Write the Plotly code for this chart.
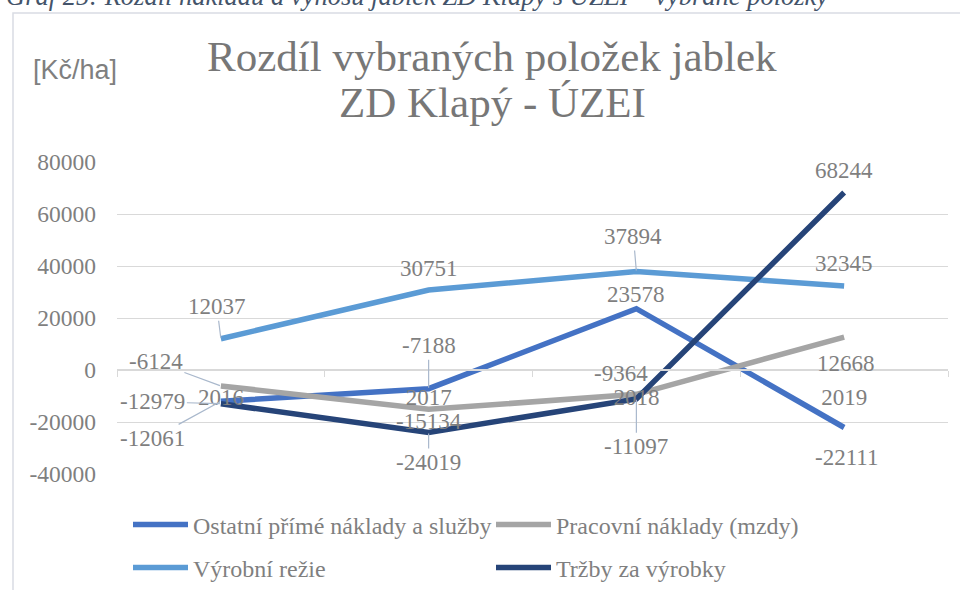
import plotly.graph_objects as go

# ---------------- data ----------------
years = ["2016", "2017", "2018", "2019"]
ostatni = [-12061, -7188, 23578, -22111]
pracovni = [-6124, -15134, -9364, 12668]
vyrobni = [12037, 30751, 37894, 32345]
trzby = [-12979, -24019, -11097, 68244]
series_names = ["Ostatní přímé náklady a služby", "Pracovní náklady (mzdy)",
                "Výrobní režie", "Tržby za výrobky"]
y_tick_vals = [-40000, -20000, 0, 20000, 40000, 60000, 80000]
y_tick_text = ["-40000", "-20000", "0", "20000", "40000", "60000", "80000"]
title_lines = ["Rozdíl vybraných položek jablek", "ZD Klapý - ÚZEI"]
unit_label = "[Kč/ha]"
caption = "Graf 25: Rozdíl nákladů a výnosů jablek ZD Klapy s ÚZEI – vybrané položky"

# ---------------- styles ----------------
colors = ["#4472C4", "#A5A5A5", "#5B9BD5", "#264478"]
SERIF = "Liberation Serif, Times New Roman, serif"
GRAY = "#7F7F7F"
LEADER = "#A9B8CC"
GRID = "#D9D9D9"

W, H = 960, 590
L, R, T, B = 117, 12, 162, 116
PW, PH = W - L - R, H - T - B


def px(x):
    return (x - L) / PW


def py(y):
    return (H - B - y) / PH


# label offsets (dx, dy in px, screen coords) and whether a leader line is drawn
label_style = [
    [(-68, 37, True), (0, -43, True), (0, -14, False), (2, 30, False)],
    [(-65, -24, True), (0, 12, False), (-15, -21, False), (2, 26, False)],
    [(-4, -32, True), (0, -22, False), (-3, -35, True), (0, -22, False)],
    [(-68, -2, True), (0, 30, True), (0, 48, True), (0, -22, False)],
]
# legend anchor positions (left x, centre y) in px
legend_pos = [(128, 525), (491, 525), (128, 568), (491, 568)]

all_series = [ostatni, pracovni, vyrobni, trzby]
legend_ids = ["legend", "legend2", "legend3", "legend4"]

fig = go.Figure()
for name, vals, col, lg in zip(series_names, all_series, colors, legend_ids):
    fig.add_trace(go.Scatter(x=years, y=vals, mode="lines", name=name,
                             line=dict(color=col, width=5.5), legend=lg,
                             hoverinfo="skip"))

annotations = []
for vals, styles in zip(all_series, label_style):
    for i, (v, (dx, dy, leader)) in enumerate(zip(vals, styles)):
        common = dict(x=i, y=v, xref="x", yref="y", text=str(v),
                      font=dict(family=SERIF, size=23, color=GRAY))
        if leader:
            annotations.append(dict(showarrow=True, arrowhead=0, arrowwidth=1.2,
                                    arrowcolor=LEADER, ax=dx, ay=dy, standoff=1,
                                    **common))
        else:
            annotations.append(dict(showarrow=False, xshift=dx, yshift=-dy, **common))

# title lines, unit, caption
annotations.append(dict(x=px(492), y=py(56), xref="paper", yref="paper", text=title_lines[0],
                        showarrow=False, xanchor="center", yanchor="middle",
                        font=dict(family=SERIF, size=43, color="#777777")))
annotations.append(dict(x=px(492), y=py(102), xref="paper", yref="paper", text=title_lines[1],
                        showarrow=False, xanchor="center", yanchor="middle",
                        font=dict(family=SERIF, size=43, color="#777777")))
annotations.append(dict(x=px(75), y=py(70), xref="paper", yref="paper", text=unit_label,
                        showarrow=False, xanchor="center", yanchor="middle",
                        font=dict(family="Liberation Sans, Arial, sans-serif", size=27, color=GRAY)))
annotations.append(dict(x=px(4), y=py(-4), xref="paper", yref="paper",
                        text="<i>" + caption + "</i>",
                        showarrow=False, xanchor="left", yanchor="middle",
                        font=dict(family=SERIF, size=26.5, color="#44546A")))

shapes = [dict(type="rect", xref="paper", yref="paper",
               x0=px(13), x1=px(1000), y0=py(640), y1=py(13),
               line=dict(color="#D9DCE3", width=1.5), fillcolor="rgba(0,0,0,0)",
               layer="below")]

legends = {}
for lg, (lx, ly) in zip(legend_ids, legend_pos):
    legends[lg] = dict(orientation="h", xanchor="left", yanchor="middle",
                       x=px(lx), y=py(ly), itemwidth=55,
                       font=dict(family=SERIF, size=24, color=GRAY),
                       bgcolor="rgba(0,0,0,0)")

fig.update_layout(
    width=W, height=H,
    margin=dict(l=L, r=R, t=T, b=B, autoexpand=False),
    paper_bgcolor="white", plot_bgcolor="white",
    showlegend=True,
    xaxis=dict(type="category", categoryorder="array", categoryarray=years,
               range=[-0.5, 3.5], anchor="free", position=1 / 3,
               showline=True, linecolor=GRID, linewidth=1.5,
               ticks="outside", tickson="boundaries", ticklen=6, tickcolor=GRID,
               showgrid=False, zeroline=False, ticklabelstandoff=7,
               tickfont=dict(family=SERIF, size=23, color=GRAY)),
    yaxis=dict(range=[-40000, 80000], tickvals=y_tick_vals, ticktext=y_tick_text,
               showgrid=True, gridcolor=GRID, gridwidth=1.2, zeroline=False,
               showline=False, ticks="", ticklabelstandoff=20,
               tickfont=dict(family=SERIF, size=23.5, color=GRAY)),
    annotations=annotations,
    shapes=shapes,
    **legends,
)

fig.write_html("out.html", config={"displayModeBar": False},
               post_script="document.body.style.margin='0';")
